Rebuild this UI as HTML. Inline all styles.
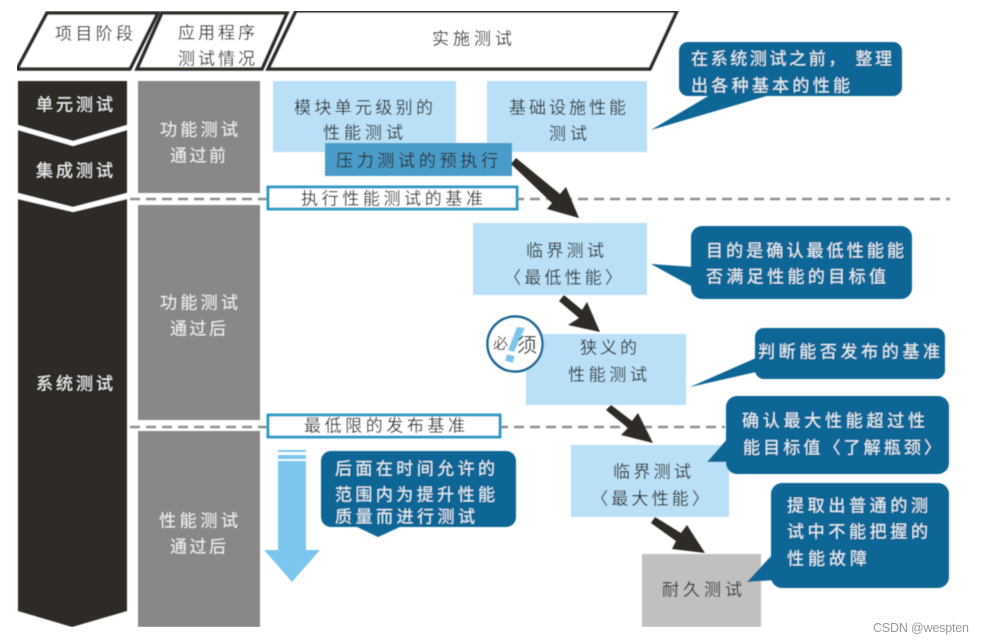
<!DOCTYPE html>
<html lang="zh"><head><meta charset="utf-8"><style>
html,body{margin:0;padding:0;background:#fff;width:985px;height:644px;overflow:hidden}
svg{display:block}
text{font-family:"Liberation Sans","WenQuanYi Zen Hei","Noto Sans CJK SC",sans-serif;font-size:17px;dominant-baseline:central;fill:#2d2d2d;transform:translateY(1px)}
.w text,text.w{fill:#f1f1f1}
.b text{fill:#e8f2f7}
</style></head><body>
<svg width="985" height="644" viewBox="0 0 985 644" xmlns="http://www.w3.org/2000/svg">
<defs><filter id="s" x="0" y="0" width="100%" height="100%"><feGaussianBlur stdDeviation="0.45"/></filter></defs>
<g filter="url(#s)">
<!-- header -->
<g fill="#fff" stroke="#2d2a28" stroke-width="3.5">
<polygon points="47,13 158,13 130,69 17,69"/>
<polygon points="162,13 287,13 262,69 137,69"/>
<polygon points="296,11 677,11 650,69 268,69"/>
</g>
<!-- black column -->
<polygon points="18,81 127,81 127,611 72,627 18,611" fill="#2d2a28"/>
<polygon points="18,125 73,141 127,125 127,130 73,146 18,130" fill="#fff"/>
<polygon points="18,193 73,207 127,193 127,199 73,212 18,199" fill="#fff"/>
<!-- gray column -->
<rect x="138" y="81" width="122" height="112" fill="#888"/>
<rect x="138" y="205" width="122" height="215" fill="#888"/>
<rect x="138" y="431" width="122" height="196" fill="#888"/>
<!-- dashes -->
<line x1="130" y1="199" x2="950" y2="199" stroke="#8f8f8f" stroke-width="2.5" stroke-dasharray="10 6"/>
<line x1="130" y1="427" x2="725" y2="427" stroke="#8f8f8f" stroke-width="2.5" stroke-dasharray="10 6"/>
<!-- light boxes -->
<g fill="#b9e0f6">
<rect x="273" y="81" width="183" height="71"/>
<rect x="487" y="81" width="160" height="71"/>
<rect x="473" y="223" width="174" height="72"/>
<rect x="526" y="334" width="160" height="71"/>
<rect x="571" y="445" width="158" height="72"/>
</g>
<rect x="642" y="554" width="119" height="73" fill="#c0c0c0"/>
<rect x="325" y="143" width="187" height="33" fill="#4a9cc9"/>
<g fill="#fff" stroke="#2a9bc8" stroke-width="3">
<rect x="268" y="187" width="249" height="22"/>
<rect x="268" y="415" width="232" height="22"/>
</g>
<!-- callouts -->
<g fill="#0a6695">
<rect x="679" y="42" width="223" height="54" rx="9"/><polygon points="710,95 770,95 651,130"/>
<rect x="691" y="226" width="221" height="73" rx="11"/><polygon points="694,267 702,292 651,264"/>
<rect x="755" y="328" width="190" height="51" rx="9"/><polygon points="756,358 756,372 690,387"/>
<rect x="726" y="396" width="223" height="78" rx="11"/><polygon points="728,438 730,462 707,462"/>
<rect x="771" y="483" width="178" height="105" rx="11"/><polygon points="772,555 775,580 747,582"/>
<rect x="321" y="451" width="195" height="76" rx="10"/><polygon points="355,526 402,526 378,537"/>
</g>
<!-- down arrow -->
<g fill="#7cc6ee">
<rect x="278" y="450" width="28" height="2"/>
<rect x="278" y="455" width="28" height="4"/>
<polygon points="278,461 306,461 306,550 320,550 292,582 264,550 278,550"/>
</g>
<!-- black arrows -->
<g fill="#2d2a28" stroke="none">
<polygon points="516,158 511,164 552,203 547,209 579,218 566,187 560,194"/>
<polygon points="564,295 559,301 579,318 568,325 600,332 587,302 582,310"/>
<polygon points="611,405 606,410 628,428 621,435 653,443 638,413 632,421"/>
<polygon points="655,517 651,523 676,541 672,549 705,553 687,525 681,533"/>
</g>
<!-- seal -->
<circle cx="515" cy="344" r="27.5" fill="#fff" stroke="#0a6695" stroke-width="2.5"/>
<polygon points="517,327 525,328 514,352 508,350" fill="#7cc6ee"/>
<rect x="506" y="355" width="8" height="7" fill="#7cc6ee" transform="rotate(15 510 358)"/>
<text x="493" y="343" textLength="16" style="font-size:15px">必</text>
<text x="517" y="345" textLength="20" style="font-size:20px">须</text>

<!-- header text -->
<text x="55" y="33" textLength="78">项目阶段</text>
<text x="178" y="32" textLength="77">应用程序</text>
<text x="178" y="58" textLength="77">测试情况</text>
<text x="432" y="38" textLength="80">实施测试</text>
<g class="w">
<text x="36" y="104" textLength="77">单元测试</text>
<text x="36" y="170" textLength="77">集成测试</text>
<text x="36" y="383" textLength="77">系统测试</text>
<text x="160" y="129" textLength="78">功能测试</text>
<text x="170" y="155" textLength="56">通过前</text>
<text x="160" y="302" textLength="78">功能测试</text>
<text x="170" y="328" textLength="56">通过后</text>
<text x="159" y="520" textLength="79">性能测试</text>
<text x="170" y="546" textLength="56">通过后</text>
</g>
<text x="294" y="107" textLength="139">模块单元级别的</text>
<text x="323" y="132" textLength="80">性能测试</text>
<text x="509" y="107" textLength="117">基础设施性能</text>
<text x="549" y="133" textLength="38">测试</text>
<text x="336" y="160" textLength="162">压力测试的预执行</text>
<text x="301" y="198" textLength="182">执行性能测试的基准</text>
<text x="304" y="425" textLength="161">最低限的发布基准</text>
<text x="526" y="250" textLength="78">临界测试</text>
<text x="504" y="277" textLength="118">〈最低性能〉</text>
<text x="580" y="347" textLength="57">狭义的</text>
<text x="568" y="374" textLength="79">性能测试</text>
<text x="613" y="471" textLength="78">临界测试</text>
<text x="591" y="498" textLength="118">〈最大性能〉</text>
<text x="662" y="589" textLength="80">耐久测试</text>
<g class="b">
<text x="691" y="58" textLength="201">在系统测试之前， 整理</text>
<text x="691" y="85" textLength="159">出各种基本的性能</text>
<text x="706" y="250" textLength="198">目的是确认最低性能能</text>
<text x="706" y="276" textLength="180">否满足性能的目标值</text>
<text x="758" y="351" textLength="182">判断能否发布的基准</text>
<text x="742" y="420" textLength="183">确认最大性能超过性</text>
<text x="743" y="447" textLength="198">能目标值〈了解瓶颈〉</text>
<text x="787" y="505" textLength="141">提取出普通的测</text>
<text x="787" y="531" textLength="141">试中不能把握的</text>
<text x="787" y="558" textLength="80">性能故障</text>
<text x="335" y="468" textLength="160">后面在时间允许的</text>
<text x="335" y="494" textLength="160">范围内为提升性能</text>
<text x="335" y="516" textLength="140">质量而进行测试</text>
</g>
</g>
<text x="873" y="627" textLength="96" style="font-size:12.5px;fill:#9a9a9a">CSDN @wespten</text>
</svg>
</body></html>
